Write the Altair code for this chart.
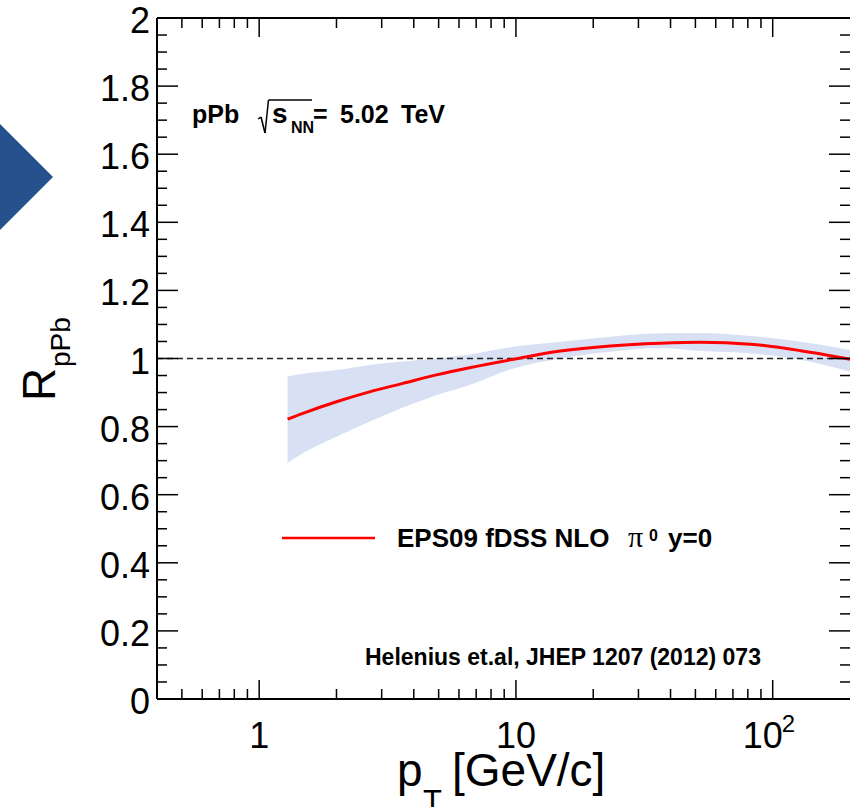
import altair as alt
import pandas as pd

# EPS09 (fDSS, NLO) nuclear modification factor for pi0 at y=0 in p+Pb, 5.02 TeV
pt = [1.29, 1.48, 2.0, 2.69, 3.63, 4.9, 6.6, 9.5, 14.9, 23.3, 36.5, 52.3, 82.0, 128.6, 200.0]
r_central = [0.822, 0.839, 0.873, 0.902, 0.927, 0.952, 0.973, 0.996, 1.022, 1.037, 1.045, 1.048, 1.042, 1.023, 0.998]
r_upper = [0.947, 0.955, 0.966, 0.981, 0.991, 1.001, 1.012, 1.033, 1.049, 1.064, 1.074, 1.075, 1.066, 1.049, 1.025]
r_lower = [0.694, 0.722, 0.770, 0.814, 0.856, 0.892, 0.922, 0.968, 1.000, 1.020, 1.030, 1.022, 1.015, 0.996, 0.961]

# axis ticks and labels
y_major = [0, 0.2, 0.4, 0.6, 0.8, 1, 1.2, 1.4, 1.6, 1.8, 2]
y_labels = ["0", "0.2", "0.4", "0.6", "0.8", "1", "1.2", "1.4", "1.6", "1.8", "2"]
y_minor = [round(0.05 * i, 2) for i in range(1, 40) if i % 4 != 0]
x_major = [1, 10, 100]
x_labels = ["1", "10"]          # plain labels; 100 is written as 10 with exponent 2
x_exp_base, x_exp_power = "10", "2"
x_minor = [0.5, 0.6, 0.7, 0.8, 0.9, 2, 3, 4, 5, 6, 7, 8, 9, 20, 30, 40, 50, 60, 70, 80, 90]

W, H = 693, 681
FONT = "Liberation Sans"
xs = alt.Scale(type="log", domain=[0.4, 200], nice=False)
ys = alt.Scale(domain=[0, 2], nice=False, zero=False)

curve = pd.DataFrame({"pt": pt, "r": r_central, "lo": r_lower, "hi": r_upper})
one = pd.DataFrame({"k": [0]})

band = alt.Chart(curve).mark_area(color="#d8e1f4", interpolate="monotone").encode(
    x=alt.X("pt:Q", scale=xs, axis=None),
    y=alt.Y("lo:Q", scale=ys, axis=None),
    y2="hi:Q",
)
line = alt.Chart(curve).mark_line(color="#ff0000", strokeWidth=3, interpolate="monotone").encode(
    x=alt.X("pt:Q", scale=xs, axis=None),
    y=alt.Y("r:Q", scale=ys, axis=None),
)
unity = alt.Chart(pd.DataFrame({"v": [1]})).mark_rule(
    color="#222222", strokeWidth=1.5, strokeDash=[6, 4]
).encode(y=alt.Y("v:Q", scale=ys, axis=None), x=alt.value(0), x2=alt.value(W))


def yticks(vals, x0, x1):
    return alt.Chart(pd.DataFrame({"v": vals})).mark_rule(color="black", strokeWidth=1.5).encode(
        y=alt.Y("v:Q", scale=ys, axis=None), x=alt.value(x0), x2=alt.value(x1)
    )


def xticks(vals, y0, y1):
    return alt.Chart(pd.DataFrame({"v": vals})).mark_rule(color="black", strokeWidth=1.5).encode(
        x=alt.X("v:Q", scale=xs, axis=None), y=alt.value(y0), y2=alt.value(y1)
    )


ticks = [
    yticks(y_major, 0, 21), yticks(y_minor, 0, 10),
    yticks(y_major, W - 21, W), yticks(y_minor, W - 10, W),
    xticks(x_major, H, H - 19), xticks(x_minor, H, H - 10),
    xticks(x_major, 0, 19), xticks(x_minor, 0, 10),
]

frame_left = alt.Chart(one).mark_rule(color="black", strokeWidth=2).encode(
    x=alt.value(0), y=alt.value(0), y2=alt.value(H))
frame_top = alt.Chart(one).mark_rule(color="black", strokeWidth=2).encode(
    x=alt.value(0), x2=alt.value(W), y=alt.value(0))
frame_bottom = alt.Chart(one).mark_rule(color="black", strokeWidth=2).encode(
    x=alt.value(0), x2=alt.value(W), y=alt.value(H))

ylab = alt.Chart(pd.DataFrame({"v": y_major, "lab": y_labels})).mark_text(
    align="right", baseline="middle", dy=4, fontSize=36, font=FONT, color="black"
).encode(y=alt.Y("v:Q", scale=ys, axis=None), x=alt.value(-7), text="lab:N")
xlab = alt.Chart(pd.DataFrame({"v": x_major[:2], "lab": x_labels})).mark_text(
    align="center", baseline="alphabetic", fontSize=36, font=FONT, color="black"
).encode(x=alt.X("v:Q", scale=xs, axis=None), y=alt.value(730), text="lab:N")
exp_df = pd.DataFrame({"v": [x_major[2]], "base": [x_exp_base], "power": [x_exp_power]})
xlab_base = alt.Chart(exp_df).mark_text(
    align="center", baseline="alphabetic", dx=-10, fontSize=36, font=FONT, color="black"
).encode(x=alt.X("v:Q", scale=xs, axis=None), y=alt.value(730), text="base:N")
xlab_power = alt.Chart(exp_df).mark_text(
    align="left", baseline="alphabetic", dx=9, fontSize=24, font=FONT, color="black"
).encode(x=alt.X("v:Q", scale=xs, axis=None), y=alt.value(714), text="power:N")


def txt(s, x, y, size, bold=False, font=FONT, angle=0):
    kw = dict(align="left", baseline="alphabetic", fontSize=size, font=font, color="black")
    if bold:
        kw["fontWeight"] = "bold"
    if angle:
        kw["angle"] = angle
    return alt.Chart(one).mark_text(**kw).encode(x=alt.value(x), y=alt.value(y), text=alt.value(s))


def seg(x0, y0, x1, y1, color="black", w=1.5):
    return alt.Chart(one).mark_rule(color=color, strokeWidth=w).encode(
        x=alt.value(x0), y=alt.value(y0), x2=alt.value(x1), y2=alt.value(y1))


# axis titles
titles = [
    txt("p", 240, 768, 46),
    txt("T", 266, 794, 31),
    txt("[GeV/c]", 295, 768, 46),
    txt("R", -102, 383, 46, angle=270),
    txt("pPb", -87, 349, 28, angle=270),
]

# collision system label with square root sign
system = [
    txt("pPb", 35, 105, 25, bold=True),
    seg(101, 101, 104, 99),
    seg(104, 99, 108, 115),
    seg(108, 115, 111.5, 82),
    seg(111.5, 82, 155, 82),
    txt("s", 115, 105, 28, bold=True),
    txt("NN", 134, 115, 16, bold=True),
    txt("=", 156, 105, 25, bold=True),
    txt("5.02", 183, 105, 25, bold=True),
    txt("TeV", 244, 105, 25, bold=True),
]

legend = [
    seg(125, 520, 218, 520, color="#ff0000", w=2.5),
    txt("EPS09 fDSS NLO", 240, 529, 26, bold=True),
    txt("π", 471, 529, 30, font="Liberation Serif"),
    txt("0", 492, 523, 16, bold=True),
    txt("y=0", 511, 529, 26, bold=True),
]

citation = txt("Helenius et.al, JHEP 1207 (2012) 073", 208, 647, 23, bold=True)

arrow = alt.Chart(one).mark_point(
    shape="M -1 -1 L 0 0 L -1 1 Z", size=11449, filled=True, color="#25528c", opacity=1
).encode(x=alt.value(-104), y=alt.value(159))

chart = alt.layer(
    band, unity, line, *ticks, frame_left, frame_top, frame_bottom,
    ylab, xlab, xlab_base, xlab_power, *titles, *system, *legend, citation, arrow,
).properties(
    width=W, height=H,
    autosize=alt.AutoSizeParams(type="none"),
    padding={"left": 157, "top": 18, "right": 0, "bottom": 108},
    background="white",
).configure_view(strokeWidth=0)

chart.save("out.html", embed_options={"renderer": "svg", "actions": False})
